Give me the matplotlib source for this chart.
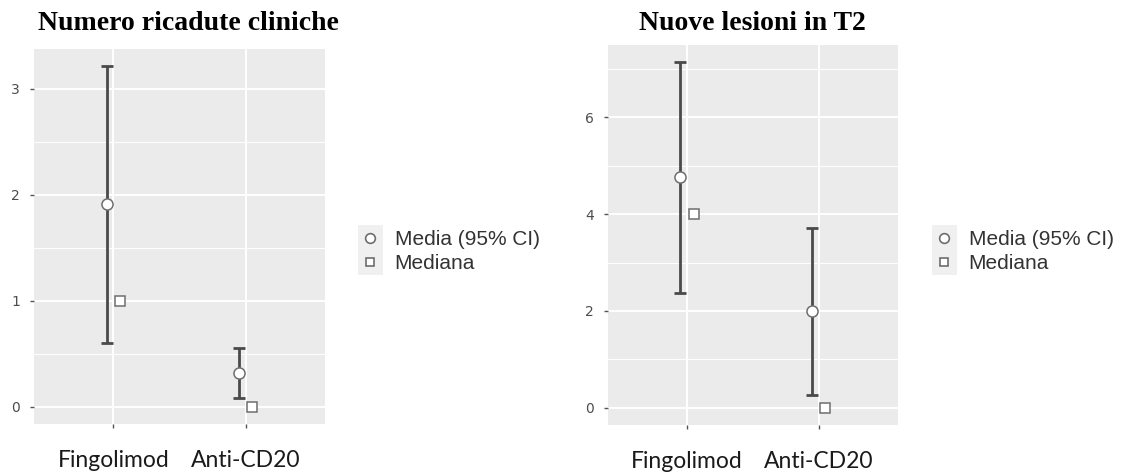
import numpy as np
import matplotlib.pyplot as plt
from matplotlib.lines import Line2D
from matplotlib.patches import Rectangle

# data
groups = ['Fingolimod', 'Anti-CD20']

relapse_mean = [1.91, 0.32]
relapse_lo = [0.60, 0.086]
relapse_hi = [3.215, 0.557]
relapse_median = [1, 0]

t2_mean = [4.76, 2.0]
t2_lo = [2.38, 0.27]
t2_hi = [7.14, 3.71]
t2_median = [4, 0]

titles = ['Numero ricadute cliniche', 'Nuove lesioni in T2']
legend_labels = ['Media (95% CI)', 'Mediana']

PANEL_BG = '#EBEBEB'
BAR_COL = '#4A4A4A'
EDGE_COL = '#6E6E6E'


def draw_panel(ax, mean, lo, hi, median, major, minor):
    '''
    ggplot-like panel: error bars for mean with CI, squares for median
    '''
    x = np.arange(len(groups))
    ax.set_facecolor(PANEL_BG)
    for s in ax.spines.values():
        s.set_visible(False)
    # grid
    ax.set_yticks(major)
    ax.set_yticks(minor, minor=True)
    ax.set_xticks(x)
    ax.grid(which='major', color='white', lw=1.4, zorder=0)
    ax.grid(which='minor', axis='y', color='white', lw=0.7, zorder=0)
    ax.tick_params(axis='y', which='minor', length=0)
    ax.tick_params(axis='both', which='major', length=3, width=1, color='#555555')
    ax.tick_params(axis='y', labelsize=10, labelcolor='#4D4D4D', pad=7)
    ax.set_axisbelow(True)

    mean = np.array(mean)
    yerr = [mean - np.array(lo), np.array(hi) - mean]
    ax.errorbar(x - 0.05, mean, yerr=yerr, fmt='none', ecolor=BAR_COL,
                elinewidth=2, capsize=4.5, capthick=2, zorder=3)
    ax.plot(x - 0.05, mean, 'o', ms=8, mfc='white', mec=EDGE_COL, mew=1.1,
            ls='none', zorder=4)
    ax.plot(x + 0.05, median, 's', ms=7, mfc='white', mec=EDGE_COL, mew=1.1,
            ls='none', zorder=4)

    ax.set_xlim(-0.6, 1.6)
    top = max(hi)
    ax.set_ylim(-0.05 * top, top * 1.05)
    ax.set_xticklabels(groups, fontsize=16.5, family='Lato', color='#1A1A1A')
    ax.tick_params(axis='x', pad=16)


fig = plt.figure(figsize=(11.36, 4.74), dpi=100)

ax1 = fig.add_axes([34 / 1136, 1 - 424 / 474, 291 / 1136, 375 / 474])
ax2 = fig.add_axes([608 / 1136, 1 - 425 / 474, 290 / 1136, 380 / 474])

draw_panel(ax1, relapse_mean, relapse_lo, relapse_hi, relapse_median,
           [0, 1, 2, 3], [0.5, 1.5, 2.5])
draw_panel(ax2, t2_mean, t2_lo, t2_hi, t2_median,
           [0, 2, 4, 6], [1, 3, 5, 7])

fig.text(188 / 1136, 1 - 24 / 474, titles[0], ha='center', va='center',
         fontsize=20, fontweight='bold', family='Liberation Serif')
fig.text(752 / 1136, 1 - 24 / 474, titles[1], ha='center', va='center',
         fontsize=20, fontweight='bold', family='Liberation Serif')

# legends
handles = [
    Line2D([], [], marker='o', ls='none', ms=7, mfc='white', mec=EDGE_COL, mew=1.2),
    Line2D([], [], marker='s', ls='none', ms=6, mfc='white', mec=EDGE_COL, mew=1.2),
]
for kx in [358, 932]:
    fig.add_artist(Rectangle((kx / 1136, 1 - 275 / 474), 25 / 1136, 50 / 474,
                             transform=fig.transFigure, facecolor='#F0F0F0',
                             edgecolor='none', zorder=0))
    fig.legend(handles, legend_labels, loc='center left',
               bbox_to_anchor=((kx - 23) / 1136, 1 - 251.5 / 474), frameon=False,
               handlelength=1.6, handletextpad=0.36, labelspacing=0.25,
               prop={'family': 'Liberation Sans', 'size': 15},
               labelcolor='#333333')

fig.savefig('out.png', dpi=100)
